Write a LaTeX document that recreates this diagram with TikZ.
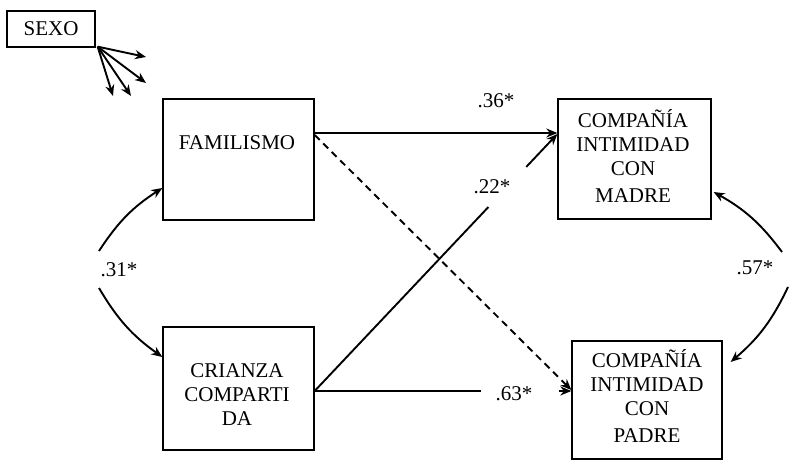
\documentclass[tikz,border=0pt]{standalone}
\usepackage{fontspec}
\setmainfont{Liberation Serif}
\usetikzlibrary{arrows.meta,calc}
\begin{document}
\begin{tikzpicture}[x=1pt,y=-1pt,
  every node/.style={font=\fontsize{21}{24}\selectfont, inner sep=1pt},
  box/.style={draw, line width=1.3pt, inner sep=0pt},
  ln/.style={line width=1.9pt},
  arr/.style={line width=1.9pt, -{Stealth[length=11pt,width=9pt]}},
  dsh/.style={dash pattern=on 7pt off 5pt}]
\useasboundingbox (0,0) rectangle (795,465);

% boxes
\node[box, minimum width=88pt, minimum height=36pt] (sexo) at (51,29) {SEXO};
\node[box, minimum width=151pt, minimum height=121pt] (fam) at (238.5,159.5) {};
\node (famt) at (237,143) {FAMILISMO};
\node[box, minimum width=151pt, minimum height=123pt] (cri) at (238.5,388.5) {};
\node[align=center] (crit) at (237,395) {CRIANZA\\COMPARTI\\DA};
\node[box, minimum width=153pt, minimum height=120pt] (mad) at (634.5,159) {};
\node[align=center] (madt) at (633,156) {COMPAÑÍA\\INTIMIDAD\\CON\\[3pt]MADRE};
\node[box, minimum width=150pt, minimum height=118pt] (pad) at (647,400) {};
\node[align=center] (padt) at (647,396) {COMPAÑÍA\\INTIMIDAD\\CON\\[3pt]PADRE};

% labels
\node (l36) at (496,101) {.36*};
\node (l22) at (492,187) {.22*};
\node (l63) at (514,394) {.63*};
\node (l31) at (119,270) {.31*};
\node (l57) at (755,268) {.57*};

% SEXO arrows
\coordinate (s0) at ([xshift=2pt,yshift=1pt]sexo.south east);
\coordinate (s1) at (146,57);
\coordinate (s2) at (146,83);
\coordinate (s3) at (131,96);
\coordinate (s4) at (113,96);
\foreach \t in {s1,s2,s3,s4} \draw[arr] (s0) -- (\t);

% paths
\draw[arr] ([yshift=26.5pt]fam.east) -- ([yshift=26pt]mad.west);
\draw[arr, dsh] ([yshift=24.5pt]fam.east) -- ([yshift=10pt]pad.west);

\coordinate (c1) at ([yshift=-2.5pt]cri.east);
\coordinate (m2) at ([yshift=25pt]mad.west);
\coordinate (p2) at ([yshift=9pt]pad.west);
\draw[ln] (c1) -- ($(c1)!0.716!(m2)$);
\draw[arr] ($(c1)!0.872!(m2)$) -- (m2);
\draw[ln] (c1) -- ($(c1)!0.647!(p2)$);
\draw[arr] ($(c1)!0.953!(p2)$) -- (p2);

% covariances
\coordinate (a31) at (99,251);
\coordinate (b31) at (99,288);
\draw[arr] (a31) to[bend left=12] ([yshift=-28.5pt]fam.west);
\draw[arr] (b31) to[bend right=12] ([yshift=31.5pt]cri.west);
\coordinate (a57) at (782,252);
\coordinate (b57) at (788,287);
\draw[arr] (a57) to[bend right=12] ([yshift=-33pt,xshift=2pt]mad.east);
\draw[arr] (b57) to[bend left=12] ([yshift=38pt,xshift=8pt]pad.east);
\end{tikzpicture}
\end{document}
